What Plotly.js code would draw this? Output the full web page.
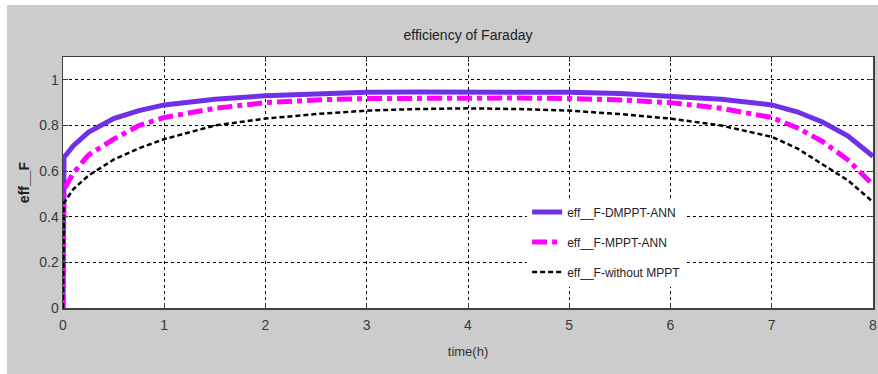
<!DOCTYPE html>
<html>
<head>
<meta charset="utf-8">
<script src="https://cdn.plot.ly/plotly-3.0.1.min.js"></script>
<style>
  html, body { margin: 0; padding: 0; background: #ffffff; }
  #chart { position: absolute; left: 7px; top: 5px; width: 871px; height: 369px; }
</style>
</head>
<body>
<div id="chart"></div>
<script>
// Faraday efficiency over an 8-hour day for three control strategies
const timeH = [0, 0.01, 0.1, 0.25, 0.5, 0.75, 1, 1.5, 2, 2.5, 3, 3.5, 4, 4.5, 5, 5.5, 6, 6.5, 7, 7.25, 7.5, 7.75, 8];

const effDmpptAnn = [0, 0.66, 0.71, 0.77, 0.83, 0.865, 0.89, 0.915, 0.93, 0.94, 0.945, 0.947, 0.947,
                     0.947, 0.945, 0.94, 0.93, 0.915, 0.89, 0.86, 0.815, 0.755, 0.665];

const effMpptAnn = [0, 0.52, 0.59, 0.67, 0.74, 0.80, 0.835, 0.875, 0.90, 0.912, 0.918, 0.92, 0.92,
                    0.92, 0.918, 0.912, 0.90, 0.875, 0.835, 0.79, 0.73, 0.65, 0.54];

const effNoMppt = [0, 0.46, 0.52, 0.58, 0.65, 0.70, 0.74, 0.80, 0.83, 0.85, 0.865, 0.872, 0.875,
                   0.872, 0.865, 0.85, 0.83, 0.80, 0.75, 0.70, 0.63, 0.56, 0.465];

const seriesNames = ['eff__F-DMPPT-ANN', 'eff__F-MPPT-ANN', 'eff__F-without MPPT'];
const xTicks = [0, 1, 2, 3, 4, 5, 6, 7, 8];
const yTicks = [0, 0.2, 0.4, 0.6, 0.8, 1];

const narrow = 'Liberation Sans Narrow, Arial Narrow, Liberation Sans, Arial, sans-serif';

const traces = [
  { x: timeH, y: effDmpptAnn, name: seriesNames[0], mode: 'lines', legendgroup: 'a',
    line: { color: '#7030e6', width: 5 } },
  { x: timeH, y: effMpptAnn, name: seriesNames[1], mode: 'lines', legendgroup: 'b',
    line: { color: '#ff00ff', width: 5, dash: 'dashdot' } },
  { x: timeH, y: effNoMppt, name: seriesNames[2], mode: 'lines', legendgroup: 'c',
    line: { color: '#000000', width: 2.5, dash: '5px,3px' } }
];

const axisCommon = {
  showline: true, linecolor: '#404040', linewidth: 1.5, mirror: 'ticks',
  ticks: 'inside', ticklen: 5, tickcolor: '#404040', tickwidth: 1,
  showgrid: true, gridcolor: '#000000', gridwidth: 1, griddash: 'dot',
  zeroline: false,
  tickfont: { family: narrow, size: 14, color: '#3a3a3a' }
};

const layout = {
  width: 871, height: 369,
  paper_bgcolor: '#cccccc', plot_bgcolor: '#ffffff',
  margin: { l: 56, r: 5, t: 52, b: 66 },
  showlegend: true,
  title: { text: 'efficiency of Faraday', x: 0.5, xref: 'paper', y: 0.918, yref: 'container',
           yanchor: 'middle', font: { family: narrow, size: 14, color: '#222222' } },
  xaxis: Object.assign({}, axisCommon, {
    range: [0, 8], tickvals: xTicks, ticktext: xTicks.map(String), ticklabelstandoff: 4,
    title: { text: 'time(h)', standoff: 14, font: { family: narrow, size: 13, color: '#333333' } }
  }),
  yaxis: Object.assign({}, axisCommon, {
    range: [0, 1.1], tickvals: yTicks, ticktext: yTicks.map(String),
    title: { text: '<b>eff__F</b>', standoff: 6, font: { family: narrow, size: 14, color: '#222222' } }
  }),
  legend: {
    x: 0.573, y: 0.44, xanchor: 'left', yanchor: 'top',
    bgcolor: '#ffffff', borderwidth: 0, tracegroupgap: 11,
    font: { family: narrow, size: 12, color: '#222222' }
  }
};

Plotly.newPlot('chart', traces, layout, { displayModeBar: false, staticPlot: true });
</script>
</body>
</html>
